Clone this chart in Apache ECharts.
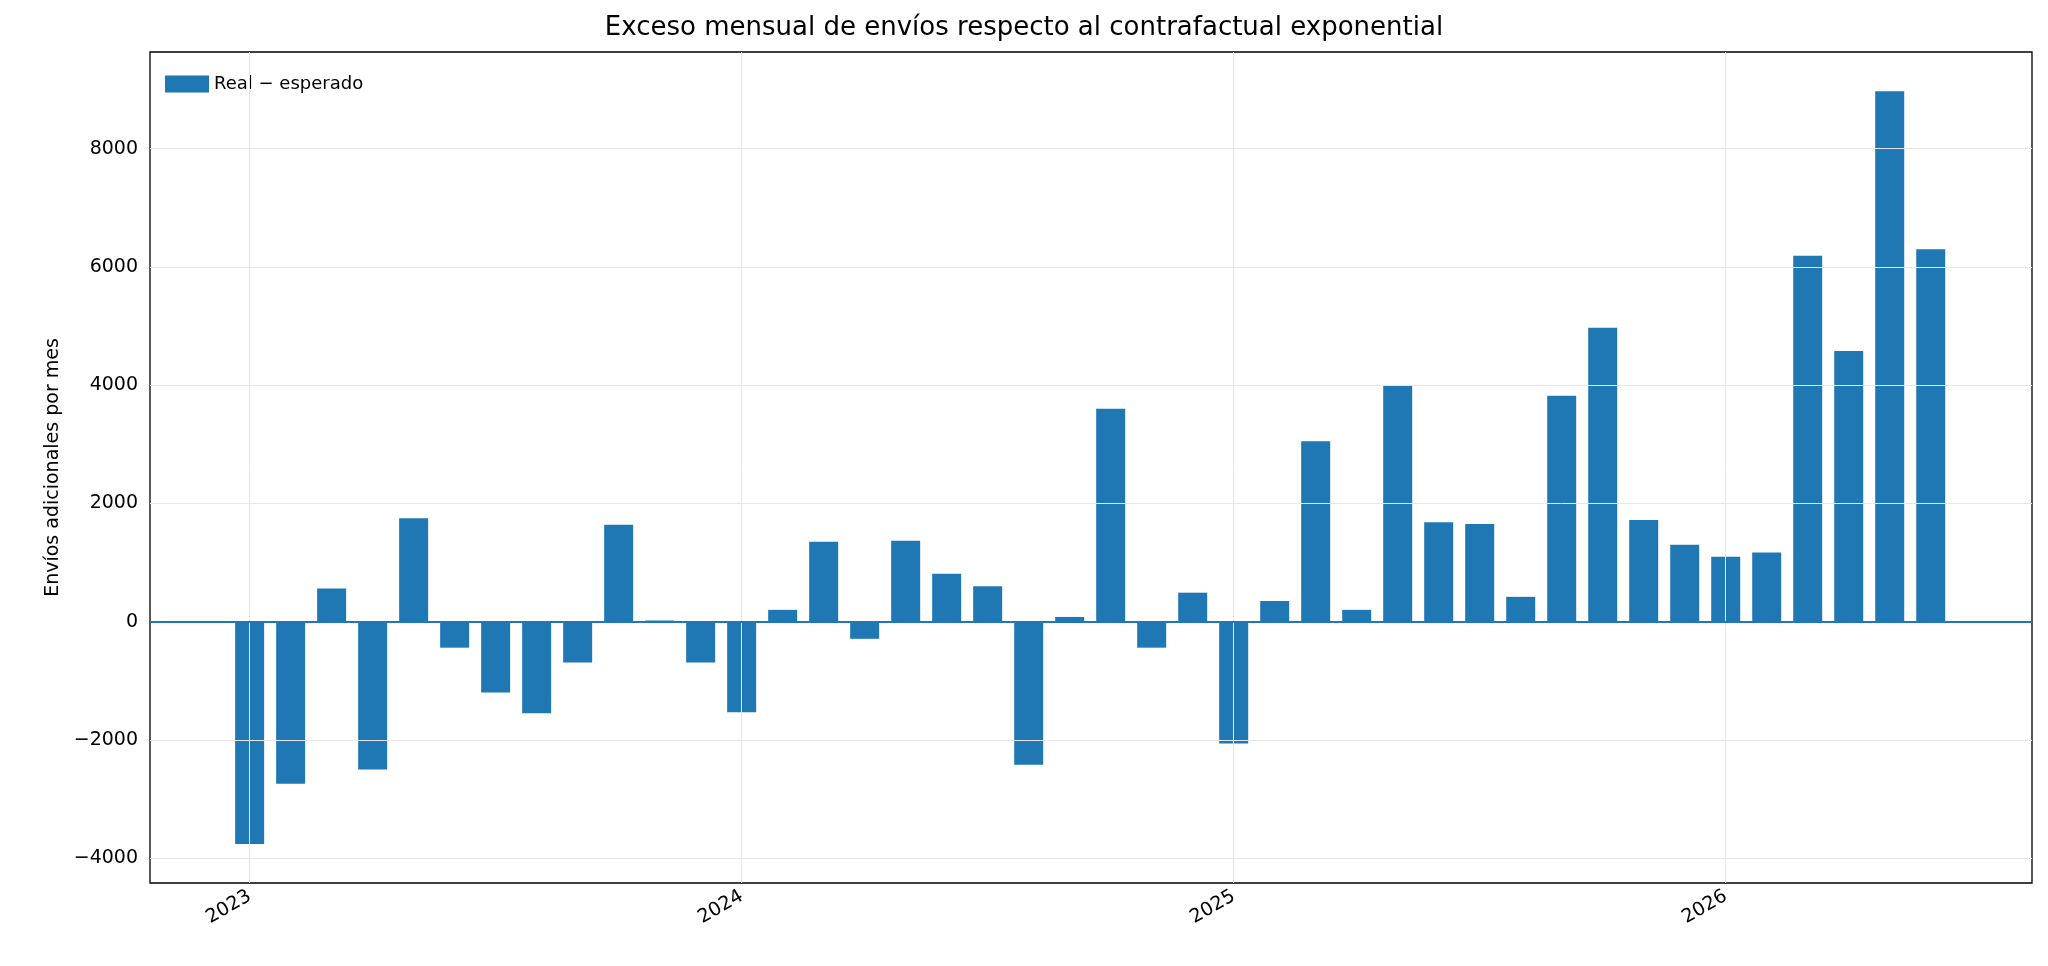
<!DOCTYPE html>
<html><head><meta charset="utf-8">
<script src="https://cdn.jsdelivr.net/npm/echarts@6/dist/echarts.min.js"></script>
<style>html,body{margin:0;padding:0;background:#fff}#c{width:2048px;height:966px}</style>
</head><body><div id="c"></div>
<script>
// months since 2023-01
const months = [0,1,2,3,4,5,6,7,8,9,10,11,12,13,14,15,16,17,18,19,20,21,22,23,24,25,26,27,28,29,30,31,32,33,34,35,36,37,38,39,40,41];
const excess = [-3760,-2740,560,-2500,1750,-440,-1200,-1550,-690,1640,20,-690,
  -1530,200,1350,-290,1370,810,600,-2420,80,3600,-440,490,
  -2060,350,3050,200,4000,1680,1650,420,3820,4970,1720,1300,
  1100,1170,6190,4580,8970,6300];
const yearTicks = [0,12,24,36];
const yearLabels = ['2023','2024','2025','2026'];
const yTicks = [-4000,-2000,0,2000,4000,6000,8000];

const font = 'DejaVu Sans';
const grid = '#e6e6e6';
const chart = echarts.init(document.getElementById('c'));
chart.setOption({
  animation:false,
  title:{text:'Exceso mensual de envíos respecto al contrafactual exponential',left:'center',top:10,
    textStyle:{fontFamily:font,fontSize:26,fontWeight:'normal',color:'#000'}},
  legend:{left:160,top:70,itemWidth:44,itemHeight:17,icon:'rect',
    textStyle:{fontFamily:font,fontSize:18,color:'#000'},data:['Real − esperado']},
  grid:{left:150,right:16,top:52,bottom:83,show:true,borderColor:'#000',borderWidth:1.3},
  xAxis:{type:'value',min:-2.43,max:43.47,
    axisLine:{show:false},splitLine:{show:false},
    axisTick:{show:true,customValues:yearTicks,length:7,lineStyle:{color:'#000'}},
    axisLabel:{customValues:yearTicks,rotate:30,fontFamily:font,fontSize:19,color:'#000',margin:12,
      formatter:v=>yearLabels[yearTicks.indexOf(Math.round(v))]}},
  yAxis:{type:'value',min:-4420,max:9635,name:'Envíos adicionales por mes',nameLocation:'middle',nameGap:85,
    nameTextStyle:{fontFamily:font,fontSize:19,color:'#000'},
    axisLine:{show:false},splitLine:{show:false},
    axisTick:{show:true,customValues:yTicks,length:7,lineStyle:{color:'#000'}},
    axisLabel:{customValues:yTicks,fontFamily:font,fontSize:19,color:'#000',margin:12,
      formatter:v=>String(v).replace('-','−')}},
  series:[{
    name:'Real − esperado',type:'bar',barWidth:29,
    itemStyle:{color:'#1f77b4'},
    data:months.map((m,i)=>[m,excess[i]]),
    markLine:{silent:true,symbol:'none',label:{show:false},animation:false,
      data:[
        ...yearTicks.map(v=>({xAxis:v,lineStyle:{color:grid,width:1,type:'solid'}})),
        ...yTicks.filter(v=>v!==0).map(v=>({yAxis:v,lineStyle:{color:grid,width:1,type:'solid'}})),
        {yAxis:0,lineStyle:{color:'#1f77b4',width:1.8,type:'solid'}}
      ]},
    z:2
  }]
});
</script></body></html>
